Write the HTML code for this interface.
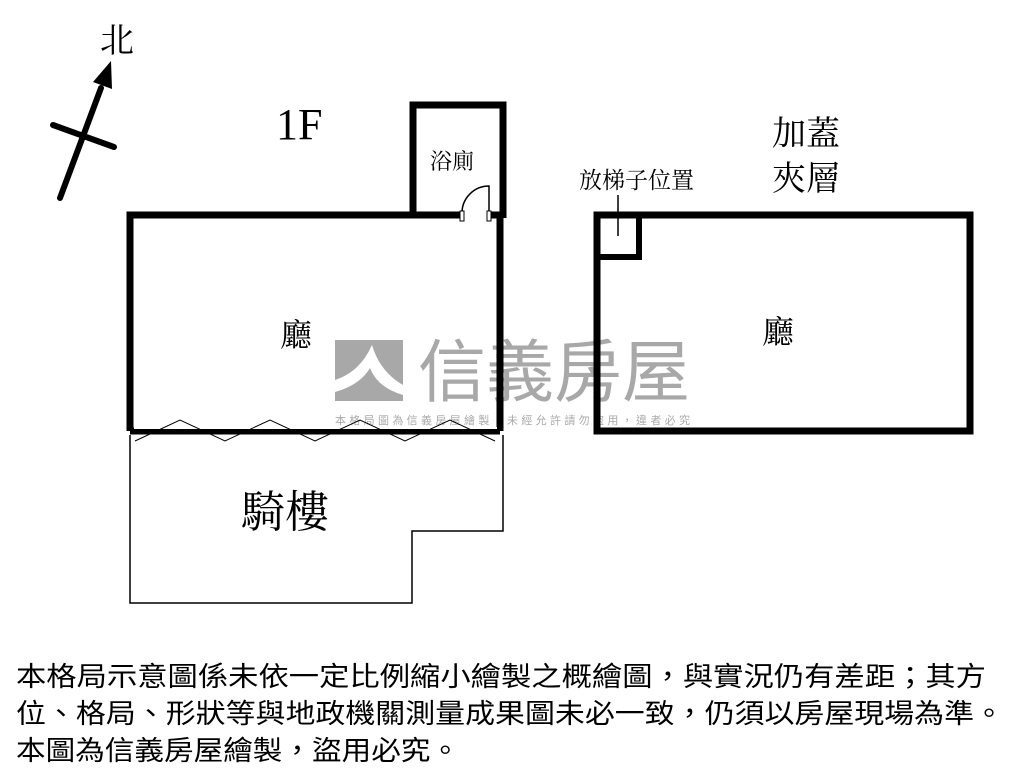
<!DOCTYPE html>
<html><head><meta charset="utf-8"><style>
body{margin:0;background:#fff}
svg text{font-family:"Liberation Serif","Noto Serif CJK SC",serif}
svg text.s{font-family:"Noto Sans CJK TC",sans-serif}
</style></head><body>
<svg width="1024" height="768" xmlns="http://www.w3.org/2000/svg">
<rect width="1024" height="768" fill="#fff"/>
<!-- watermark -->
<rect x="335" y="340" width="68" height="61" fill="#a8a8a8"/>
<path d="M335,380 Q360,372 372,345 Q380,372 403,385 L403,395 Q378,388 370,368 Q360,385 335,392Z" fill="#fff"/>
<text class="s" x="418" y="396" font-size="68" fill="#a8a8a8" textLength="272">信義房屋</text>
<text class="s" x="335" y="424" font-size="11" fill="#aaa" textLength="355">本格局圖為信義房屋繪製，未經允許請勿盜用，違者必究</text>
<!-- compass -->
<g stroke="#000" stroke-width="6" stroke-linecap="round">
<line x1="60" y1="198" x2="101" y2="88"/>
<line x1="53" y1="125" x2="114" y2="147"/>
</g>
<polygon points="111,61 93,82 112,89" fill="#000"/>
<text x="100" y="52" font-size="34">北</text>
<text x="276" y="139" font-size="44">1F</text>
<!-- 1F plan -->
<g fill="none" stroke="#000">
<path d="M130,431 L130,215 L462,215 M490,215 L500,215 L500,431" stroke-width="7"/>
<path d="M413,215 L413,105 L503,105 L503,218" stroke-width="7"/>
<line x1="130" y1="431" x2="500" y2="431" stroke-width="7"/>
<line x1="134" y1="428" x2="497" y2="428" stroke="#fff" stroke-width="2"/>
<path d="M489,214 L489,186 A27,27 0 0 0 462,213" stroke-width="1.5"/>
<polyline points="135,441 180,420 225,441 270,420 315,441 360,420 405,441 450,420 495,441" stroke-width="1"/>
<path d="M130,435 L130,603 L412,603 L412,531 L503,531 L503,435" stroke-width="1.5"/>
</g>
<rect x="460" y="211" width="4" height="10" fill="#fff" stroke="#000" stroke-width="1"/>
<rect x="487" y="211" width="4" height="10" fill="#fff" stroke="#000" stroke-width="1"/>
<text x="430" y="169" font-size="22">浴廁</text>
<text x="280" y="346" font-size="32">廳</text>
<text x="241" y="527" font-size="44">騎樓</text>
<!-- mezzanine -->
<g fill="none" stroke="#000" stroke-width="7">
<rect x="597" y="215" width="373" height="216"/>
<rect x="597" y="215" width="42" height="42" stroke-width="6"/>
</g>
<line x1="618" y1="195" x2="618" y2="236" stroke="#000" stroke-width="1.5"/>
<text x="579" y="188" font-size="23">放梯子位置</text>
<text x="772" y="145" font-size="34">加蓋</text>
<text x="772" y="190" font-size="34">夾層</text>
<text x="762" y="343" font-size="32">廳</text>
<g font-size="27">
<text class="s" x="16" y="686" textLength="970" lengthAdjust="spacingAndGlyphs">本格局示意圖係未依一定比例縮小繪製之概繪圖，與實況仍有差距；其方</text>
<text class="s" x="16" y="723" textLength="988" lengthAdjust="spacingAndGlyphs">位、格局、形狀等與地政機關測量成果圖未必一致，仍須以房屋現場為準。</text>
<text class="s" x="16" y="760" textLength="444" lengthAdjust="spacingAndGlyphs">本圖為信義房屋繪製，盜用必究。</text>
</g>
</svg>
</body></html>
